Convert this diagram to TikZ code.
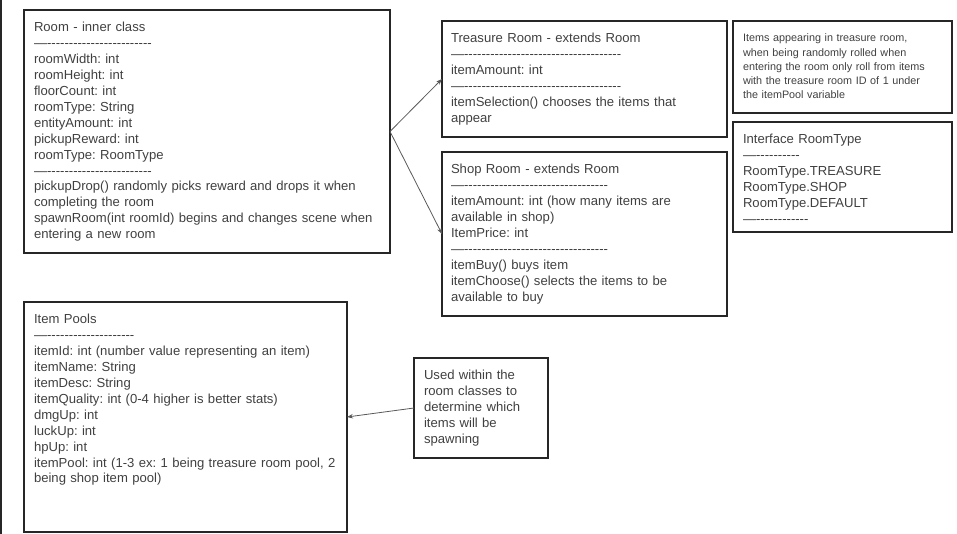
\documentclass[tikz,border=0pt]{standalone}
\usepackage{fontspec}
\newfontfamily\diagramfont{Liberation Sans}
\usetikzlibrary{positioning,arrows.meta}
\frenchspacing
\newcommand{\sepline}[1]{—\foreach \i in {1,...,#1}{-}}
\tikzstyle{box}=[draw=black!85, line width=1.1pt, anchor=north west, inner sep=0pt, outer sep=0pt]
\tikzstyle{box text}=[anchor=north west, inner sep=0pt, outer sep=0pt, align=left, text=black!75, font=\diagramfont\fontsize{13.1}{15.9}\selectfont]
\tikzstyle{note text}=[box text, font=\diagramfont\fontsize{10.8}{14.2}\selectfont]
\tikzstyle{link}=[draw=black!65, line width=0.8pt, -{Stealth[length=6pt,width=4.5pt]}]

\begin{document}
\begin{tikzpicture}[x=1pt, y=-1pt]
\useasboundingbox (0,0) rectangle (957,534);
\draw[line width=1.5pt, black!85] (1,0) -- (1,534);

% class boxes
\node[box, minimum width=366pt, minimum height=243pt] (room) at (24,10) {};
\node[box, minimum width=285pt, minimum height=116pt] (treasure) at (442,21) {};
\node[box, minimum width=285pt, minimum height=164pt] (shop) at (442,152) {};
\node[box, minimum width=219pt, minimum height=92pt] (note) at (733,21) {};
\node[box, minimum width=219pt, minimum height=110pt] (iface) at (733,122) {};
\node[box, minimum width=323pt, minimum height=230pt] (pools) at (24,302) {};
\node[box, minimum width=134pt, minimum height=100pt] (used) at (414,358) {};

% texts
\node[box text, text width=355pt, below right=12.5pt and 10pt of room.north west] (room text) {Room - inner class\\
\sepline{24}\\
roomWidth: int\\
roomHeight: int\\
floorCount: int\\
roomType: String\\
entityAmount: int\\
pickupReward: int\\
roomType: RoomType\\
\sepline{24}\\
pickupDrop() randomly picks reward and drops it when\\
completing the room\\
spawnRoom(int roomId) begins and changes scene when\\
entering a new room};

\node[box text, text width=275pt, below right=12.5pt and 9pt of treasure.north west] (treasure text) {Treasure Room - extends Room\\
\sepline{36}\\
itemAmount: int\\
\sepline{36}\\
itemSelection() chooses the items that\\
appear};

\node[box text, text width=275pt, below right=12.5pt and 9pt of shop.north west] (shop text) {Shop Room - extends Room\\
\sepline{33}\\
itemAmount: int (how many items are\\
available in shop)\\
ItemPrice: int\\
\sepline{33}\\
itemBuy() buys item\\
itemChoose() selects the items to be\\
available to buy};

\node[note text, text width=210pt, below right=13pt and 10pt of note.north west] (note text) {Items appearing in treasure room,\\
when being randomly rolled when\\
entering the room only roll from items\\
with the treasure room ID of 1 under\\
the itemPool variable};

\node[box text, text width=210pt, below right=12.5pt and 10pt of iface.north west] (iface text) {Interface RoomType\\
\sepline{10}\\
RoomType.TREASURE\\
RoomType.SHOP\\
RoomType.DEFAULT\\
\sepline{12}};

\node[box text, text width=330pt, below right=12.5pt and 10pt of pools.north west] (pools text) {Item Pools\\
\sepline{20}\\
itemId: int (number value representing an item)\\
itemName: String\\
itemDesc: String\\
itemQuality: int (0-4 higher is better stats)\\
dmgUp: int\\
luckUp: int\\
hpUp: int\\
itemPool: int (1-3 ex: 1 being treasure room pool, 2\\
being shop item pool)};

\node[box text, text width=130pt, below right=12.5pt and 10pt of used.north west] (used text) {Used within the\\
room classes to\\
determine which\\
items will be\\
spawning};

% connectors
\draw[link] (room.east) -- (treasure.west);
\draw[link] (room.east) -- (shop.west);
\draw[link] (used.west) -- (pools.east);
\end{tikzpicture}
\end{document}
